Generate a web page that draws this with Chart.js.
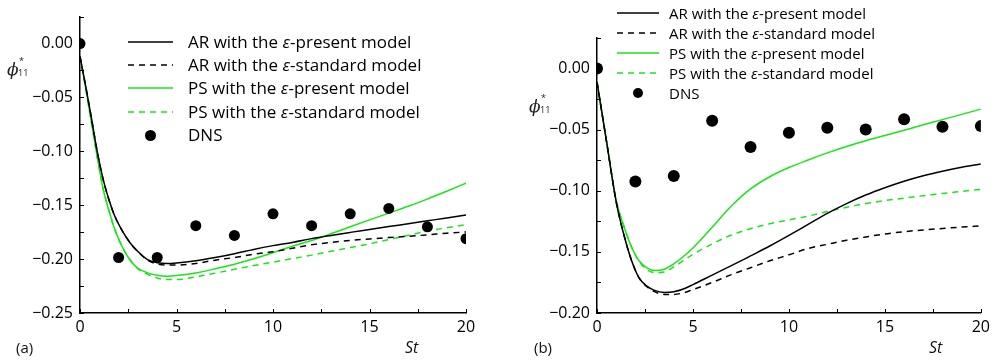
<!DOCTYPE html>
<html>
<head>
<meta charset="utf-8">
<script src="https://cdn.jsdelivr.net/npm/chart.js@4.4.1/dist/chart.umd.min.js"></script>
<style>
  html, body { margin:0; padding:0; background:#fff; }
  body { width:995px; height:363px; position:relative; overflow:hidden; font-family:"Open Sans", "Noto Sans", sans-serif; color:#111; }
  .panel { position:absolute; top:0; height:363px; }
  .lbl { position:absolute; white-space:nowrap; line-height:20px; height:20px; }
</style>
</head>
<body>
<div class="panel" style="left:0;width:497px"><canvas id="ca" width="497" height="363"></canvas></div>
<div class="panel" style="left:497px;width:498px"><canvas id="cb" width="498" height="363"></canvas></div>
<div id="overlay"></div>
<script>
// ---------------- DATA ----------------
const legendLabels = [
  'AR with the <i>ε</i>-present model',
  'AR with the <i>ε</i>-standard model',
  'PS with the <i>ε</i>-present model',
  'PS with the <i>ε</i>-standard model',
  'DNS'
];
const xTickValues = [0, 5, 10, 15, 20];
const dnsSt = [0, 2, 4, 6, 8, 10, 12, 14, 16, 18, 20];

// Panel (a)
const aSt = [0,0.3,0.6,0.9,1.2,1.5,1.8,2.2,2.6,3.0,3.5,4.0,4.5,5.0,6,7,8,9,10,11,12,13,14,15,16,17,18,19,20];
const aARpresent  = [-0.012,-0.040,-0.070,-0.101,-0.126,-0.145,-0.160,-0.174,-0.185,-0.193,-0.2005,-0.2033,-0.2040,-0.2035,-0.2015,-0.1985,-0.1950,-0.1910,-0.1875,-0.1845,-0.1810,-0.1780,-0.1752,-0.1725,-0.1698,-0.1672,-0.1645,-0.1618,-0.1590];
const aARstandard = [-0.012,-0.040,-0.070,-0.101,-0.126,-0.145,-0.160,-0.174,-0.185,-0.193,-0.2010,-0.2045,-0.2055,-0.2055,-0.2040,-0.2010,-0.1985,-0.1955,-0.1932,-0.1900,-0.1867,-0.1845,-0.1827,-0.1813,-0.1800,-0.1788,-0.1775,-0.1760,-0.1748];
const aPSpresent  = [-0.012,-0.042,-0.074,-0.106,-0.135,-0.155,-0.1724,-0.189,-0.201,-0.2085,-0.2128,-0.2150,-0.2158,-0.2153,-0.2128,-0.2090,-0.2047,-0.1997,-0.1940,-0.1880,-0.1827,-0.1765,-0.1700,-0.1636,-0.1573,-0.1510,-0.1443,-0.1370,-0.1295];
const aPSstandard = [-0.012,-0.042,-0.074,-0.106,-0.135,-0.155,-0.1724,-0.189,-0.201,-0.2090,-0.2140,-0.2175,-0.2190,-0.2190,-0.2165,-0.2130,-0.2095,-0.2060,-0.2028,-0.1995,-0.1963,-0.1928,-0.1893,-0.1858,-0.1818,-0.1780,-0.1740,-0.1710,-0.1680];
const aDNS = [0,-0.1985,-0.1985,-0.169,-0.178,-0.158,-0.169,-0.158,-0.153,-0.170,-0.181];
const aYTicks = [0.00,-0.05,-0.10,-0.15,-0.20,-0.25];

// Panel (b)
const bSt = [0,0.5,1.0,1.4,1.8,2.2,2.6,3.0,3.5,4.0,4.5,5,6,7,8,9,10,11,12,13,14,15,16,17,18,19,20];
const bARpresent  = [-0.011,-0.060,-0.109,-0.136,-0.157,-0.1715,-0.1780,-0.1815,-0.1832,-0.1826,-0.1804,-0.1768,-0.1690,-0.1613,-0.1533,-0.1452,-0.1365,-0.1275,-0.1185,-0.1105,-0.1035,-0.0975,-0.0922,-0.0877,-0.0840,-0.0808,-0.0780];
const bARstandard = [-0.011,-0.060,-0.109,-0.136,-0.157,-0.1715,-0.1785,-0.1825,-0.1848,-0.1848,-0.1835,-0.1808,-0.1750,-0.1686,-0.1630,-0.1573,-0.1524,-0.1472,-0.1438,-0.1405,-0.1378,-0.1353,-0.1335,-0.1320,-0.1308,-0.1297,-0.1287];
const bPSpresent  = [-0.011,-0.060,-0.108,-0.129,-0.146,-0.1575,-0.1630,-0.1652,-0.1642,-0.1598,-0.1538,-0.1468,-0.1298,-0.1125,-0.0985,-0.0885,-0.0810,-0.0748,-0.0690,-0.0637,-0.0590,-0.0548,-0.0505,-0.0460,-0.0418,-0.0375,-0.0332];
const bPSstandard = [-0.011,-0.060,-0.108,-0.129,-0.146,-0.1580,-0.1645,-0.1670,-0.1665,-0.1622,-0.1572,-0.1520,-0.1435,-0.1362,-0.1310,-0.1270,-0.1238,-0.1207,-0.1170,-0.1135,-0.1105,-0.1080,-0.1060,-0.1040,-0.1022,-0.1005,-0.0988];
const bDNS = [0,-0.0925,-0.0879,-0.0427,-0.0642,-0.0525,-0.0484,-0.0498,-0.0414,-0.0476,-0.0471];
const bYTicks = [0.00,-0.05,-0.10,-0.15,-0.20];

// ---------------- STYLE ----------------
const BLACK = '#000000';
const GREEN = 'rgb(24,230,24)';
const DASH = [6, 5];
const FONT = '"Open Sans", "Noto Sans", sans-serif';

function pts(xs, ys) { return xs.map((x, i) => ({x: x, y: ys[i]})); }
function fmt(v) { return v.toFixed(2).replace('-', '\u2212'); }

const tickPlugin = {
  id: 'innerTicks',
  afterDatasetsDraw(chart) {
    const ctx = chart.ctx, xs = chart.scales.x, ys = chart.scales.y;
    const a = chart.chartArea;
    ctx.save();
    ctx.strokeStyle = '#000';
    ctx.lineWidth = 1;
    for (let v = xs.min; v <= xs.max + 1e-9; v += 2.5) {
      const px = Math.round(xs.getPixelForValue(v)) + 0.5;
      ctx.beginPath(); ctx.moveTo(px, a.bottom); ctx.lineTo(px, a.bottom - 4); ctx.stroke();
    }
    for (let v = ys.min; v <= ys.max + 1e-9; v += 0.025) {
      const py = Math.round(ys.getPixelForValue(v)) + 0.5;
      ctx.beginPath(); ctx.moveTo(a.left, py); ctx.lineTo(a.left + 4, py); ctx.stroke();
    }
    ctx.restore();
  }
};

function makeChart(id, st, ar1, ar2, ps1, ps2, dns, yMin, yTicks, pad, dotR) {
  return new Chart(document.getElementById(id), {
    type: 'line',
    data: {
      datasets: [
        { label: 'DNS', data: pts(dnsSt, dns), showLine: false, pointRadius: dotR, pointHoverRadius: dotR,
          pointBackgroundColor: BLACK, pointBorderWidth: 0, borderWidth: 0, order: -1 },
        { label: 'AR present', data: pts(st, ar1), borderColor: BLACK, borderWidth: 1.5, pointRadius: 0, cubicInterpolationMode: 'monotone' },
        { label: 'AR standard', data: pts(st, ar2), borderColor: BLACK, borderWidth: 1.5, borderDash: DASH, pointRadius: 0, cubicInterpolationMode: 'monotone' },
        { label: 'PS present', data: pts(st, ps1), borderColor: GREEN, borderWidth: 1.5, pointRadius: 0, cubicInterpolationMode: 'monotone' },
        { label: 'PS standard', data: pts(st, ps2), borderColor: GREEN, borderWidth: 1.5, borderDash: DASH, pointRadius: 0, cubicInterpolationMode: 'monotone' }
      ]
    },
    options: {
      responsive: false,
      animation: false,
      devicePixelRatio: 1,
      layout: { padding: pad },
      plugins: { legend: { display: false }, tooltip: { enabled: false } },
      scales: {
        x: {
          type: 'linear', min: 0, max: 20,
          grid: { display: false, drawTicks: false, tickLength: 0 },
          border: { display: true, color: '#000', width: 1.5 },
          afterBuildTicks: (s) => { s.ticks = xTickValues.map(v => ({ value: v })); },
          ticks: { font: { family: FONT, size: 16 }, color: '#000', padding: 5, maxRotation: 0, autoSkip: false },
          afterFit: (s) => { s.height = 50; }
        },
        y: {
          type: 'linear', min: yMin, max: 0.025,
          grid: { display: false, drawTicks: false, tickLength: 0 },
          border: { display: true, color: '#000', width: 1.5 },
          afterBuildTicks: (s) => { s.ticks = yTicks.map(v => ({ value: v })); },
          ticks: { font: { family: FONT, size: 16 }, color: '#000', padding: 7, autoSkip: false,
                   callback: (v) => fmt(v) },
          afterFit: (s) => { s.width = pad.yw; }
        }
      }
    },
    plugins: [tickPlugin]
  });
}

makeChart('ca', aSt, aARpresent, aARstandard, aPSpresent, aPSstandard, aDNS, -0.25, aYTicks,
  { top: 8, right: 31, bottom: 0, left: 0, yw: 80 }, 5.5);
makeChart('cb', bSt, bARpresent, bARstandard, bPSpresent, bPSstandard, bDNS, -0.20, bYTicks,
  { top: 38, right: 12, bottom: 0, left: 0, yw: 100 }, 6);

// ---------------- OVERLAY TEXT (legend, axis titles) ----------------
const ov = document.getElementById('overlay');
function addHTML(html) { ov.insertAdjacentHTML('beforeend', html); }

function legend(lineX, lineW, textX, rowsY, fontSize, dotR) {
  const styles = [[BLACK, null], [BLACK, DASH], [GREEN, null], [GREEN, DASH]];
  styles.forEach((s, i) => {
    const y = rowsY[i];
    addHTML(`<svg style="position:absolute;left:${lineX}px;top:${y - 2}px" width="${lineW}" height="4">
      <line x1="0" y1="2" x2="${lineW}" y2="2" stroke="${s[0]}" stroke-width="1.5" ${s[1] ? `stroke-dasharray="${s[1].join(',')}"` : ''}/></svg>`);
  });
  const yd = rowsY[4];
  addHTML(`<svg style="position:absolute;left:${lineX + lineW / 2 - dotR}px;top:${yd - dotR}px" width="${2 * dotR}" height="${2 * dotR}">
    <circle cx="${dotR}" cy="${dotR}" r="${dotR}" fill="#000"/></svg>`);
  legendLabels.forEach((t, i) => {
    addHTML(`<div class="lbl" style="left:${textX}px;top:${rowsY[i] - 10}px;font-size:${fontSize}px;color:#000">${t}</div>`);
  });
}
legend(128, 45, 188, [42, 65, 88, 112, 135], 17, 5.5);
legend(617, 42, 669, [13, 33, 53, 73, 93], 15, 5);

function phiLabel(x, y) {
  addHTML(`<div style="position:absolute;left:${x}px;top:${y}px;width:30px;height:30px;color:#222">
    <span style="position:absolute;left:0;top:0;font-family:'DejaVu Serif',serif;font-style:italic;font-size:17px;line-height:20px">&#981;</span>
    <span style="position:absolute;left:12px;top:-3px;font-size:9px;line-height:10px">*</span>
    <span style="position:absolute;left:11px;top:9px;font-size:9px;line-height:10px">11</span></div>`);
}
phiLabel(7, 59);
phiLabel(529, 96);

addHTML(`<div class="lbl" style="left:16px;top:337px;font-size:15px">(a)</div>`);
addHTML(`<div class="lbl" style="left:534px;top:337px;font-size:15px">(b)</div>`);
addHTML(`<div class="lbl" style="left:405px;top:337px;font-size:16px;font-style:italic">St</div>`);
addHTML(`<div class="lbl" style="left:929px;top:337px;font-size:16px;font-style:italic">St</div>`);
</script>
</body>
</html>
